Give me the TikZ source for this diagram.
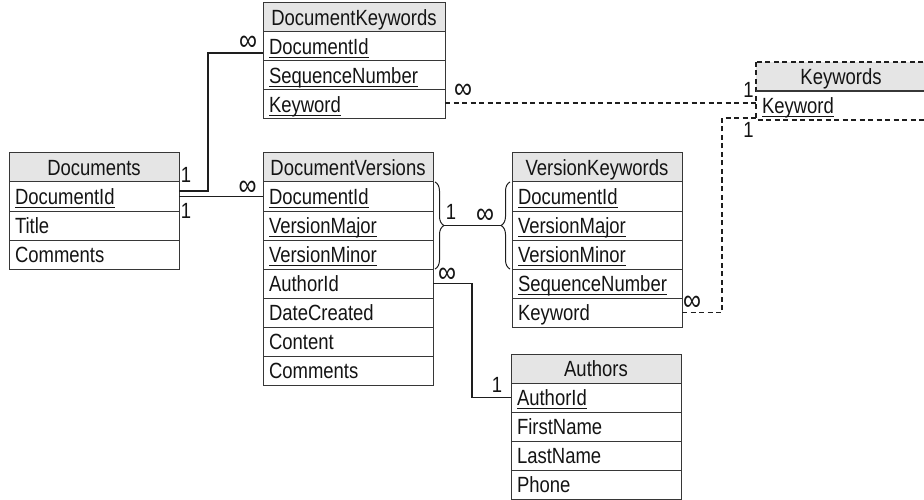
\documentclass[tikz,border=0pt]{standalone}
\usepackage{fontspec}
\setmainfont{Liberation Sans}[FakeStretch=0.84]
\usetikzlibrary{positioning, calc, decorations.pathreplacing}
\definecolor{lineDark}{RGB}{30, 30, 30}
\definecolor{borderGray}{RGB}{55, 55, 55}
\definecolor{headGray}{RGB}{229, 229, 229}
\definecolor{textDark}{RGB}{20, 20, 20}
\newcommand{\erfont}{\fontsize{22}{26}\selectfont}
\newcommand{\inffont}{\fontsize{30}{34}\selectfont}
\newcommand{\pk}[1]{\setbox0\hbox{#1}\rlap{\rule[-4pt]{\wd0}{1pt}}\box0}

\begin{document}
\begin{tikzpicture}[
    x=1pt, y=-1pt,
    % Table cells
    field/.style={
        rectangle,
        draw=borderGray,
        line width=1pt,
        outer sep=0pt,
        minimum height=29pt,
        text width=158pt,
        inner xsep=6pt,
        inner ysep=0pt,
        text height=15.5pt,
        text depth=0pt,
        align=left,
        font=\erfont,
        text=textDark
    },
    head/.style={
        field,
        fill=headGray,
        align=center
    },
    % Connectors
    link/.style={
        draw=lineDark,
        line width=1.6pt
    },
    weak/.style={
        link,
        dash pattern=on 5pt off 3.5pt
    },
    curly/.style={
        draw=lineDark,
        line width=1pt,
        decorate,
        decoration={brace, amplitude=9pt}
    },
    card/.style={
        inner sep=0pt,
        font=\erfont,
        text=textDark
    },
    many/.style={
        card,
        font=\inffont
    }
]
\useasboundingbox (0,0) rectangle (924,500);

% Documents
\node[head, anchor=north west] (doc) at (9,153) {Documents};
\node[field, below=0pt of doc] (doc1) {\pk{DocumentId}};
\node[field, below=0pt of doc1] (doc2) {Title};
\node[field, below=0pt of doc2] (doc3) {Comments};

% DocumentKeywords
\node[head, text width=170pt, anchor=north west] (dk) at (263,3) {DocumentKeywords};
\node[field, text width=170pt, below=0pt of dk] (dk1) {\pk{DocumentId}};
\node[field, text width=170pt, below=0pt of dk1] (dk2) {\pk{SequenceNumber}};
\node[field, text width=170pt, below=0pt of dk2] (dk3) {\pk{Keyword}};

% DocumentVersions
\node[head, anchor=north west] (dv) at (263,153) {DocumentVersions};
\node[field, below=0pt of dv] (dv1) {\pk{DocumentId}};
\node[field, below=0pt of dv1] (dv2) {\pk{VersionMajor}};
\node[field, below=0pt of dv2] (dv3) {\pk{VersionMinor}};
\node[field, below=0pt of dv3] (dv4) {AuthorId};
\node[field, below=0pt of dv4] (dv5) {DateCreated};
\node[field, below=0pt of dv5] (dv6) {Content};
\node[field, below=0pt of dv6] (dv7) {Comments};

% VersionKeywords
\node[head, anchor=north west] (vk) at (512,153) {VersionKeywords};
\node[field, below=0pt of vk] (vk1) {\pk{DocumentId}};
\node[field, below=0pt of vk1] (vk2) {\pk{VersionMajor}};
\node[field, below=0pt of vk2] (vk3) {\pk{VersionMinor}};
\node[field, below=0pt of vk3] (vk4) {\pk{SequenceNumber}};
\node[field, below=0pt of vk4] (vk5) {Keyword};

% Authors
\node[head, anchor=north west] (au) at (511,354) {Authors};
\node[field, below=0pt of au] (au1) {\pk{AuthorId}};
\node[field, below=0pt of au1] (au2) {FirstName};
\node[field, below=0pt of au2] (au3) {LastName};
\node[field, below=0pt of au3] (au4) {Phone};

% Keywords (dashed table)
\node[head, draw=none, anchor=north west] (kw) at (756,62) {Keywords};
\node[field, draw=none, below=0pt of kw] (kw1) {\pk{Keyword}};
\draw[weak, line width=1.3pt] (kw.north west) rectangle (kw1.south east);
\draw[draw=borderGray, line width=1.2pt] (kw.south west) -- (kw.south east);

% Braces on the composite key
\draw[curly] ([xshift=2pt]dv1.north east) -- ([xshift=2pt]dv3.south east);
\draw[curly] ([xshift=-2pt]vk3.south west) -- ([xshift=-2pt]vk1.north west);
\coordinate (dvtip) at ($(dv1.north east)!0.5!(dv3.south east)+(11pt,0)$);
\coordinate (vktip) at ($(vk1.north west)!0.5!(vk3.south west)+(-11pt,0)$);
\coordinate (kwline) at ([yshift=2.5pt]kw1.west);

% Connectors
\draw[link] ([yshift=5.5pt]doc1.east) -- ++(29pt,0) |- ([yshift=-6.5pt]dk1.west);
\draw[link] (doc1.east) -- (dv1.west);
\draw[link] (dvtip) -- (vktip);
\draw[link] (dv4.east) -- ++(39pt,0) |- (au1.west);
\draw[weak] (dk3.east |- kwline) -- (kwline);
\draw[weak] (vk5.east) -- ++(40pt,0) |- ([yshift=-12.5pt]kw1.west);

% Cardinalities
\node[card] (c1) at ([xshift=7pt, yshift=21.5pt]doc1.east) {1};
\node[card] (c2) at ([xshift=7pt, yshift=-14.5pt]doc1.east) {1};
\node[many] (m1) at ([xshift=-15pt, yshift=3.5pt]dk1.west) {∞};
\node[many] (m2) at ([xshift=-15.5pt, yshift=8.5pt]dv1.west) {∞};
\node[many] (m3) at ([xshift=18pt, yshift=13pt]dk3.east) {∞};
\node[card] (c3) at ([xshift=-7.5pt, yshift=15.5pt]kw1.west) {1};
\node[card] (c4) at ([xshift=-7.5pt, yshift=-24.5pt]kw1.west) {1};
\node[many] (m4) at ([xshift=10pt, yshift=9pt]vk5.east) {∞};
\node[card] (c5) at ([xshift=7pt, yshift=14pt]dvtip) {1};
\node[many] (m5) at ([xshift=-16pt, yshift=9.5pt]vktip) {∞};
\node[many] (m6) at ([xshift=14pt, yshift=8pt]dv4.east) {∞};
\node[card] (c6) at ([xshift=-14pt, yshift=12.5pt]au1.west) {1};

\end{tikzpicture}
\end{document}
